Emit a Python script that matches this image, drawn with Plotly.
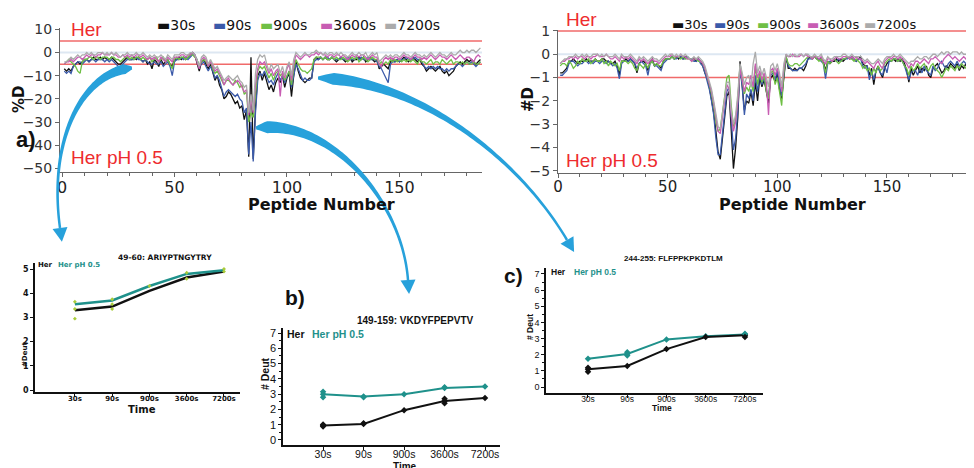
import numpy as np
import plotly.graph_objects as go

# ---------------- data ----------------
SERIES = ["30s", "90s", "900s", "3600s", "7200s"]
COLORS = ["#111111", "#3b5aa9", "#6fbf45", "#c85db3", "#ababab"]

# %D per peptide (peptides 1..186), one list per exchange time
PCT_30 = [
    -7, -8, -7, -8, -6, -5, -4, -5, -4, -3,
    -3, -4, -3, -2, -3, -3, -2, -3, -2, -3,
    -3, -2, -3, -4, -5, -5, -4, -3, -2, -3,
    -3, -2, -3, -2, -3, -4, -3, -5, -4, -7,
    -3, -4, -6, -3, -5, -4, -3, -5, -6, -3,
    -3, -2, -3, -2, -3, -2, -1, 0, -1, -4,
    -8, -4, -3, -5, -7, -5, -9, -12, -10, -14,
    -16, -20, -19, -17, -18, -20, -22, -21, -24, -23,
    -29, -25, -45, -2, -46, -24, -10, -8, -12, -9,
    -13, -16, -14, -17, -13, -11, -13, -10, -15, -11,
    -9, -19, -10, -4, -8, -11, -12, -13, -12, -11,
    -11, -3, -2, -3, -2, -3, -2, -3, -3, -2,
    -3, -4, -3, -2, -3, -4, -3, -2, -4, -3,
    -3, -2, -3, -2, -4, -3, -2, -3, -4, -3,
    -7, -6, -5, -6, -7, -4, -3, -4, -3, -4,
    -3, -2, -3, -4, -3, -2, -3, -4, -3, -5,
    -6, -8, -7, -6, -7, -8, -7, -6, -8, -9,
    -8, -10, -9, -8, -6, -5, -4, -5, -4, -3,
    -4, -3, -4, -5, -4, -3]
PCT_90 = [
    -8, -9, -8, -9, -6, -5, -4, -4, -5, -4,
    -3, -4, -3, -3, -4, -3, -3, -3, -4, -3,
    -4, -3, -4, -5, -6, -6, -5, -4, -3, -3,
    -3, -3, -2, -3, -3, -4, -3, -4, -5, -5,
    -4, -5, -5, -4, -6, -5, -4, -6, -10, -4,
    -3, -3, -2, -3, -2, -3, -2, -1, -1, -3,
    -6, -5, -4, -6, -8, -6, -8, -11, -10, -12,
    -15, -19, -17, -16, -17, -18, -19, -18, -20, -21,
    -26, -24, -44, -30, -47, -26, -12, -9, -10, -8,
    -11, -13, -12, -14, -11, -9, -12, -10, -13, -10,
    -8, -15, -9, -5, -7, -10, -12, -11, -12, -12,
    -11, -4, -3, -3, -2, -3, -2, -2, -3, -2,
    -3, -3, -3, -2, -3, -3, -2, -3, -3, -3,
    -2, -3, -2, -3, -3, -2, -3, -3, -3, -4,
    -6, -7, -9, -11, -13, -5, -4, -4, -3, -4,
    -3, -3, -2, -3, -3, -3, -2, -3, -3, -4,
    -6, -7, -6, -7, -6, -7, -6, -7, -7, -8,
    -7, -8, -7, -7, -6, -5, -5, -6, -5, -4,
    -5, -4, -5, -6, -5, -4]
PCT_900 = [
    -5, -4, -3, -4, -5, -6, -8, -9, -4, -3,
    -3, -2, -2, -3, -2, -2, -3, -2, -2, -2,
    -3, -2, -2, -3, -3, -4, -3, -2, -2, -3,
    -2, -3, -2, -2, -3, -2, -3, -3, -2, -4,
    -3, -2, -4, -3, -2, -4, -3, -5, -7, -3,
    -2, -3, -2, -2, -3, -2, -1, -1, -2, -3,
    -6, -4, -3, -4, -6, -4, -7, -9, -8, -10,
    -12, -14, -12, -12, -13, -14, -12, -13, -15, -14,
    -18, -17, -30, -26, -28, -18, -8, -6, -7, -6,
    -9, -11, -9, -12, -9, -8, -10, -9, -12, -10,
    -8, -14, -7, -3, -5, -7, -8, -8, -9, -8,
    -7, -3, -2, -2, -2, -3, -2, -3, -3, -2,
    -3, -2, -3, -3, -2, -3, -4, -3, -2, -3,
    -2, -4, -3, -2, -3, -4, -3, -2, -3, -3,
    -5, -4, -5, -4, -5, -3, -4, -3, -4, -3,
    -4, -3, -4, -3, -4, -3, -4, -5, -3, -4,
    -4, -5, -4, -3, -5, -4, -4, -5, -3, -4,
    -5, -4, -3, -5, -4, -4, -5, -4, -5, -4,
    -5, -5, -4, -5, -5, -4]
PCT_3600 = [
    -5, -4, -4, -3, -4, -3, -2, -2, -3, -2,
    -1, -2, -1, -1, -2, -1, -1, 0, -1, -1,
    -1, 0, -1, -1, -2, -2, -1, -2, -1, -2,
    -1, -2, -1, -1, -2, -1, -2, -3, -2, -3,
    -2, -3, -4, -2, -3, -4, -2, -3, -4, -2,
    -2, -2, -1, -1, -2, -1, -1, 0, -1, -4,
    -7, -3, -2, -3, -6, -4, -6, -8, -7, -9,
    -11, -14, -12, -11, -13, -14, -13, -12, -13, -15,
    -17, -16, -27, -20, -26, -14, -7, -4, -5, -4,
    -7, -9, -7, -10, -8, -7, -19, -8, -11, -7,
    -5, -12, -5, -1, -2, -3, -2, -1, -1, -2,
    -1, -1, 0, -1, 0, -1, -1, -2, -1, -1,
    -2, -1, -1, -2, -1, -2, -3, -2, -1, -2,
    -1, -2, -1, -1, -2, -3, -2, -1, -2, -2,
    -5, -6, -3, -2, -3, -2, -3, -2, -2, -3,
    -2, -1, -2, -2, -3, -2, -1, -2, -2, -3,
    -2, -3, -2, -1, -2, -3, -2, -1, -2, -2,
    -3, -2, -1, -2, -3, -2, -1, -2, -3, -2,
    -2, -3, -4, -2, -1, -2]
PCT_7200 = [
    -4, -4, -3, -2, -3, -2, -1, -2, -1, -1,
    0, -1, 0, -1, -1, 0, 0, 0, -1, 0,
    -1, 0, -1, 0, -1, -2, -1, -1, 0, -1,
    -1, -1, 0, -1, -1, 0, -1, -2, -1, -2,
    -1, -2, -2, -1, -2, -3, -1, -2, -3, -1,
    -1, -1, 0, 0, -1, -1, 0, 0, -1, -3,
    -6, -2, -1, -2, -5, -3, -5, -7, -6, -8,
    -10, -12, -11, -10, -11, -12, -11, -10, -12, -13,
    -15, -14, -26, -18, -25, -9, -3, -1, -2, -1,
    -5, -8, -5, -7, -6, -5, -9, -6, -10, -6,
    -4, -10, -3, 0, -1, -2, -1, 0, -1, -1,
    0, 0, 1, 0, 0, -1, 0, -1, 0, 0,
    -1, 0, -1, 0, -1, -1, -2, -1, 0, -1,
    -1, 0, -1, -1, 0, -2, -1, 0, -1, 0,
    -4, -3, -2, -1, -2, -1, -2, -1, -1, -2,
    -1, 0, -1, -1, -2, -1, 0, -1, -1, -2,
    -1, -2, -1, 0, -1, -2, -1, 0, -1, -1,
    -2, -1, 0, -1, -1, 0, 1, 0, 0, 1,
    0, 1, 1, 0, 1, 2]

# #D per peptide (peptides 1..190)
ND_30 = [
    -0.8, -0.8, -0.7, -0.6, -0.3, -0.3, -0.2, -0.3, -0.4, -0.3,
    -0.3, -0.3, -0.2, -0.3, -0.3, -0.3, -0.2, -0.3, -0.3, -0.2,
    -0.2, -0.3, -0.3, -0.4, -0.4, -0.3, -0.5, -0.9, -0.3, -0.3,
    -0.2, -0.3, -0.2, -0.3, -0.4, -0.8, -0.4, -0.3, -0.3, -0.4,
    -0.7, -0.3, -0.2, -0.5, -0.4, -0.5, -0.6, -0.3, -0.2, -0.2,
    -0.2, -0.1, -0.2, -0.1, -0.2, -0.1, -0.2, -0.1, -0.1, -0.2,
    -0.2, -0.2, -0.3, -0.2, -0.3, -0.5, -0.8, -1.0, -1.4, -1.9,
    -2.5, -3.3, -4.2, -4.5, -3.6, -2.7, -1.8, -1.6, -3.2, -4.9,
    -4.0, -2.7, -0.3, -1.5, -2.4, -2.0, -2.1, -1.6, -2.2, -1.2,
    -2.0, -1.0, -1.4, -1.1, -1.7, -2.1, -1.0, -0.9, -1.2, -0.8,
    -1.5, -1.9, -1.0, -0.1, -0.6, -0.6, -0.7, -0.6, -0.7, -0.6,
    -0.6, -0.7, -0.5, -0.2, -0.1, -0.2, -0.1, -0.2, -0.2, -0.2,
    -0.3, -0.7, -0.3, -0.4, -0.3, -0.3, -0.2, -0.3, -0.2, -0.3,
    -0.2, -0.1, -0.2, -0.1, -0.2, -0.3, -0.2, -0.1, -0.4, -0.5,
    -0.5, -0.9, -0.6, -1.3, -0.7, -0.5, -0.8, -1.0, -0.6, -0.4,
    -0.3, -0.3, -0.2, -0.3, -0.2, -0.3, -0.2, -0.4, -0.7, -1.2,
    -0.6, -0.9, -0.7, -0.5, -0.8, -0.6, -0.7, -0.5, -0.9, -1.0,
    -0.6, -0.5, -0.4, -0.6, -0.8, -0.7, -0.5, -0.6, -0.4, -0.5,
    -0.6, -0.4, -0.7, -0.5, -0.6, -0.4, -0.7, -0.6, -0.5, -0.6]
ND_90 = [
    -0.9, -0.9, -0.8, -0.7, -0.4, -0.3, -0.3, -0.4, -0.5, -0.4,
    -0.4, -0.3, -0.3, -0.4, -0.3, -0.4, -0.3, -0.3, -0.4, -0.3,
    -0.3, -0.4, -0.3, -0.4, -0.5, -0.4, -0.6, -1.05, -0.4, -0.3,
    -0.3, -0.3, -0.2, -0.3, -0.4, -0.6, -0.4, -0.3, -0.4, -0.5,
    -0.9, -0.4, -0.3, -0.5, -0.5, -0.6, -0.7, -0.4, -0.3, -0.2,
    -0.2, -0.1, -0.2, -0.2, -0.1, -0.1, -0.2, -0.2, -0.1, -0.2,
    -0.2, -0.3, -0.3, -0.2, -0.4, -0.5, -0.8, -1.1, -1.5, -2.0,
    -2.6, -3.6, -4.3, -4.3, -3.4, -2.4, -1.6, -1.4, -3.0, -4.1,
    -3.6, -2.4, -0.6, -1.4, -2.6, -1.7, -1.9, -1.5, -2.0, -0.9,
    -1.6, -0.9, -1.3, -1.0, -1.5, -1.9, -0.9, -0.8, -1.1, -0.7,
    -1.3, -1.8, -0.9, -0.1, -0.5, -0.6, -0.7, -0.7, -0.7, -0.6,
    -0.6, -0.5, -0.4, -0.2, -0.2, -0.2, -0.1, -0.2, -0.2, -0.3,
    -0.4, -1.05, -0.4, -0.3, -0.3, -0.2, -0.3, -0.2, -0.3, -0.2,
    -0.2, -0.2, -0.1, -0.2, -0.2, -0.3, -0.2, -0.2, -0.5, -0.6,
    -0.5, -1.1, -0.7, -1.1, -0.7, -0.6, -0.8, -0.9, -0.5, -0.8,
    -0.3, -0.3, -0.2, -0.2, -0.3, -0.2, -0.3, -0.5, -0.8, -1.1,
    -0.8, -0.7, -0.7, -0.9, -0.6, -0.8, -0.5, -0.7, -0.8, -0.9,
    -0.5, -0.7, -0.6, -0.4, -0.3, -0.5, -0.6, -0.4, -0.3, -0.4,
    -0.5, -0.3, -0.5, -0.4, -0.3, -0.4, -0.5, -0.3, -0.4, -0.3]
ND_900 = [
    -0.5, -0.4, -0.4, -0.5, -0.3, -0.4, -0.6, -0.5, -0.3, -0.4,
    -0.2, -0.3, -0.3, -0.2, -0.4, -0.3, -0.2, -0.3, -0.3, -0.2,
    -0.4, -0.3, -0.5, -0.3, -0.4, -0.5, -0.4, -0.7, -0.3, -0.3,
    -0.3, -0.4, -0.3, -0.4, -0.6, -0.7, -0.4, -0.5, -0.6, -0.4,
    -0.6, -0.4, -0.3, -0.5, -0.4, -0.5, -0.5, -0.3, -0.2, -0.2,
    -0.2, -0.1, -0.2, -0.1, -0.1, -0.2, -0.1, -0.2, -0.2, -0.2,
    -0.3, -0.2, -0.2, -0.3, -0.3, -0.4, -0.6, -0.9, -1.3, -1.7,
    -2.2, -2.9, -3.3, -3.2, -2.6, -1.8, -1.0, -0.9, -2.2, -3.1,
    -2.8, -1.9, -0.5, -1.1, -1.7, -1.4, -1.6, -1.2, -1.6, -0.5,
    -1.3, -0.8, -1.2, -0.9, -1.6, -1.9, -0.8, -0.7, -1.3, -1.0,
    -1.6, -2.2, -0.8, -0.1, -0.4, -0.5, -0.5, -0.4, -0.4, -0.5,
    -0.4, -0.3, -0.2, -0.1, -0.1, -0.2, -0.1, -0.2, -0.3, -0.2,
    -0.4, -0.8, -0.3, -0.4, -0.3, -0.2, -0.3, -0.4, -0.3, -0.2,
    -0.2, -0.1, -0.2, -0.2, -0.3, -0.2, -0.3, -0.4, -0.6, -0.5,
    -0.7, -0.6, -0.9, -0.6, -0.8, -0.5, -0.7, -0.6, -0.4, -0.3,
    -0.2, -0.3, -0.2, -0.2, -0.3, -0.2, -0.3, -0.5, -0.6, -0.9,
    -0.5, -0.7, -0.6, -0.4, -0.6, -0.5, -0.4, -0.6, -0.7, -0.5,
    -0.4, -0.6, -0.7, -0.8, -1.0, -0.8, -0.6, -0.7, -0.5, -0.6,
    -0.7, -0.5, -0.6, -0.4, -0.5, -0.6, -0.4, -0.5, -0.4, -0.5]
ND_3600 = [
    -0.4, -0.3, -0.3, -0.2, -0.2, -0.1, -0.2, -0.1, -0.2, -0.1,
    -0.1, -0.2, -0.1, -0.1, -0.2, -0.1, -0.1, 0.0, -0.1, -0.1,
    -0.1, 0.0, -0.1, -0.2, -0.2, -0.1, -0.2, -0.3, -0.1, -0.2,
    -0.1, -0.2, -0.1, -0.2, -0.3, -0.4, -0.2, -0.3, -0.2, -0.3,
    -0.4, -0.3, -0.2, -0.3, -0.3, -0.4, -0.3, -0.2, -0.1, -0.1,
    -0.1, 0.0, -0.1, -0.1, -0.1, 0.0, -0.1, -0.1, -0.2, -0.2,
    -0.3, -0.2, -0.2, -0.2, -0.3, -0.4, -0.6, -0.9, -1.2, -1.6,
    -2.1, -2.7, -3.3, -3.4, -2.8, -2.0, -1.3, -1.5, -2.6, -3.3,
    -2.9, -2.0, -0.6, -1.1, -1.6, -1.2, -1.3, -0.9, -1.4, -0.4,
    -1.0, -0.7, -1.1, -0.8, -1.2, -2.6, -0.7, -0.6, -0.9, -0.6,
    -1.0, -1.6, -0.6, 0.0, -0.1, -0.1, 0.0, -0.1, -0.1, -0.1,
    0.0, -0.1, 0.0, -0.1, -0.1, -0.2, -0.1, -0.1, -0.2, -0.1,
    -0.3, -0.4, -0.2, -0.2, -0.3, -0.2, -0.1, -0.2, -0.2, -0.1,
    -0.1, -0.1, -0.2, -0.1, -0.2, -0.1, -0.2, -0.2, -0.3, -0.4,
    -0.3, -0.4, -0.5, -0.6, -0.4, -0.3, -0.5, -0.6, -0.3, -0.2,
    -0.1, -0.2, -0.1, -0.1, -0.2, -0.1, -0.2, -0.3, -0.4, -0.6,
    -0.4, -0.5, -0.3, -0.3, -0.4, -0.3, -0.2, -0.3, -0.4, -0.2,
    -0.2, -0.1, -0.2, -0.3, -0.4, -0.2, -0.1, 0.0, -0.1, -0.2,
    -0.1, -0.2, -0.3, -0.2, -0.1, -0.2, -0.3, -0.2, -0.1, -0.2]
ND_7200 = [
    -0.4, -0.3, -0.2, -0.2, -0.1, -0.1, -0.1, 0.0, -0.1, -0.1,
    0.0, -0.1, 0.0, -0.1, -0.1, 0.0, 0.0, 0.0, -0.1, 0.0,
    -0.1, 0.0, -0.1, -0.1, -0.1, 0.0, -0.1, -0.2, 0.0, -0.1,
    -0.1, -0.1, 0.0, -0.1, -0.2, -0.3, -0.1, -0.2, -0.1, -0.2,
    -0.3, -0.2, -0.1, -0.2, -0.2, -0.3, -0.2, -0.1, 0.0, -0.1,
    0.0, 0.0, -0.1, 0.0, -0.1, 0.0, -0.1, 0.0, -0.1, -0.2,
    -0.2, -0.1, -0.2, -0.1, -0.2, -0.3, -0.5, -0.8, -1.1, -1.5,
    -2.0, -2.6, -3.1, -3.2, -2.6, -1.8, -1.2, -1.2, -2.4, -3.0,
    -2.6, -1.7, -0.4, -0.8, -1.3, -1.0, -0.9, -1.4, -0.4, 0.1,
    -0.8, -0.5, -0.9, -0.6, -1.0, -1.4, -0.5, -0.4, -0.7, -0.4,
    -0.8, -1.4, -0.4, 0.0, -0.1, 0.0, -0.1, 0.0, -0.1, 0.0,
    0.0, -0.1, 0.0, 0.0, -0.1, -0.1, 0.0, -0.1, -0.1, 0.0,
    -0.2, -0.3, -0.1, -0.2, -0.2, -0.1, -0.1, -0.1, -0.1, 0.0,
    0.0, -0.1, -0.1, 0.0, -0.1, -0.1, -0.1, -0.1, -0.2, -0.3,
    -0.2, -0.3, -0.4, -0.4, -0.3, -0.2, -0.3, -0.4, -0.2, -0.1,
    -0.1, -0.1, 0.0, -0.1, -0.1, 0.0, -0.1, -0.2, -0.3, -0.4,
    -0.3, -0.3, -0.2, -0.1, -0.2, -0.2, -0.1, -0.1, -0.2, -0.1,
    0.0, 0.0, -0.1, 0.0, 0.1, 0.0, 0.1, 0.1, 0.0, 0.1,
    0.1, 0.1, 0.0, 0.1, 0.0, 0.0, -0.1, 0.0, 0.1, -0.1]

PCT_ALL = [PCT_30, PCT_90, PCT_900, PCT_3600, PCT_7200]
ND_ALL = [ND_30, ND_90, ND_900, ND_3600, ND_7200]
PEP_PCT = list(range(1, len(PCT_30) + 1))
PEP_ND = list(range(1, len(ND_30) + 1))

# uptake plots for single peptides
TIMES = ["30s", "90s", "900s", "3600s", "7200s"]
A_TITLE = "49-60: ARIYPTNGYTRY"
A_HER = [3.3, 3.45, 4.1, 4.65, 4.9]
A_PH = [3.55, 3.7, 4.3, 4.8, 4.95]
A_REP_T = ["30s", "30s", "30s", "90s", "90s", "90s", "900s", "3600s", "3600s", "7200s", "7200s"]
A_REP_Y = [2.95, 3.35, 3.65, 3.35, 3.55, 3.75, 4.3, 4.6, 4.85, 4.9, 5.0]

B_TITLE = "149-159: VKDYFPEPVTV"
B_HER = [0.95, 1.05, 1.95, 2.55, 2.75]
B_PH = [3.0, 2.85, 3.0, 3.4, 3.5]
B_HER_REP_T = ["30s", "30s", "90s", "3600s", "3600s"]
B_HER_REP_Y = [0.88, 1.02, 1.1, 2.4, 2.7]
B_PH_REP_T = ["30s", "30s", "90s", "3600s"]
B_PH_REP_Y = [2.8, 3.15, 2.8, 3.45]

C_TITLE = "244-255: FLFPPKPKDTLM"
C_HER = [1.1, 1.3, 2.35, 3.1, 3.2]
C_PH = [1.75, 2.05, 2.95, 3.15, 3.25]
C_HER_REP_T = ["30s", "30s", "7200s"]
C_HER_REP_Y = [0.95, 1.2, 3.1]
C_PH_REP_T = ["90s", "90s", "7200s"]
C_PH_REP_Y = [1.95, 2.15, 3.3]

HER = "Her"
HER_PH = "Her pH 0.5"
RED = "#ee2b2e"
TEAL = "#1f918b"
ARROW = "#27a1db"

# ---------------- helpers (page pixel -> paper) ----------------
# the page body keeps its default 8px margin, so the figure sits at (8, 8)
OFF = 8
W, H = 974 - OFF, 468 - OFF


def px(x):
    return (x - OFF) / W


def py(y):
    return 1 - (y - OFF) / H


fig = go.Figure()

# main panels
for name, col, ys in zip(SERIES, COLORS, PCT_ALL):
    fig.add_trace(go.Scatter(x=PEP_PCT, y=ys, mode="lines", name=name,
                             line=dict(color=col, width=1.3),
                             xaxis="x", yaxis="y", showlegend=False))
for name, col, ys in zip(SERIES, COLORS, ND_ALL):
    fig.add_trace(go.Scatter(x=PEP_ND, y=ys, mode="lines", name=name,
                             line=dict(color=col, width=1.3),
                             xaxis="x2", yaxis="y2", showlegend=False))

# inset a
fig.add_trace(go.Scatter(x=TIMES, y=A_HER, mode="lines", line=dict(color="#111111", width=2.5),
                         xaxis="x3", yaxis="y3", showlegend=False))
fig.add_trace(go.Scatter(x=TIMES, y=A_PH, mode="lines", line=dict(color=TEAL, width=2.5),
                         xaxis="x3", yaxis="y3", showlegend=False))
fig.add_trace(go.Scatter(x=A_REP_T, y=A_REP_Y, mode="markers",
                         marker=dict(color="#a9cc3a", size=3, symbol="diamond"),
                         xaxis="x3", yaxis="y3", showlegend=False))

# inset b and c
for ax, her, ph, hrt, hry, prt, pry in [
        ("4", B_HER, B_PH, B_HER_REP_T, B_HER_REP_Y, B_PH_REP_T, B_PH_REP_Y),
        ("5", C_HER, C_PH, C_HER_REP_T, C_HER_REP_Y, C_PH_REP_T, C_PH_REP_Y)]:
    fig.add_trace(go.Scatter(x=TIMES, y=ph, mode="lines+markers",
                             line=dict(color=TEAL, width=2),
                             marker=dict(color=TEAL, size=5, symbol="diamond"),
                             xaxis="x" + ax, yaxis="y" + ax, showlegend=False))
    fig.add_trace(go.Scatter(x=TIMES, y=her, mode="lines+markers",
                             line=dict(color="#111111", width=2),
                             marker=dict(color="#111111", size=5, symbol="diamond"),
                             xaxis="x" + ax, yaxis="y" + ax, showlegend=False))
    fig.add_trace(go.Scatter(x=prt, y=pry, mode="markers",
                             marker=dict(color=TEAL, size=5, symbol="diamond"),
                             xaxis="x" + ax, yaxis="y" + ax, showlegend=False))
    fig.add_trace(go.Scatter(x=hrt, y=hry, mode="markers",
                             marker=dict(color="#111111", size=5, symbol="diamond"),
                             xaxis="x" + ax, yaxis="y" + ax, showlegend=False))

# ---------------- axes ----------------
main_font = dict(family="DejaVu Sans", size=14, color="#333333")
ax_common = dict(showline=True, linecolor="#666666", linewidth=1, showgrid=False,
                 zeroline=False, ticks="outside", ticklen=4, tickcolor="#666666",
                 automargin=False)

fig.update_layout(
    xaxis=dict(domain=[px(60), px(482)], range=[-0.9, 186.7], anchor="y",
               tickvals=[0, 50, 100, 150], tickfont=dict(family="DejaVu Sans", size=16, color="#222"),
               ticklabelstandoff=-4,
               minor=dict(dtick=10, ticks="outside", ticklen=3, tickcolor="#666666"), **ax_common),
    yaxis=dict(domain=[py(172.3), py(28)], range=[-51.7, 10.6], anchor="x",
               tickvals=[-50, -40, -30, -20, -10, 0, 10], tickfont=main_font, **ax_common),
    xaxis2=dict(domain=[px(558), 1.0], range=[0, 189.7], anchor="y2",
                tickvals=[0, 50, 100, 150], tickfont=dict(family="DejaVu Sans", size=15, color="#222"),
                ticklabelstandoff=-4,
                minor=dict(dtick=10, ticks="outside", ticklen=3, tickcolor="#666666"), **ax_common),
    yaxis2=dict(domain=[py(173), py(30)], range=[-5.09, 1.04], anchor="x2",
                tickvals=[-5, -4, -3, -2, -1, 0, 1], tickfont=main_font, **ax_common),
)

ins_common = dict(showline=True, linecolor="#111111", linewidth=1.5, showgrid=False,
                  zeroline=False, ticks="outside", ticklen=3, tickcolor="#111111",
                  automargin=False)
narrow = "Liberation Sans"
fig.update_layout(
    xaxis3=dict(domain=[px(35), px(240)], range=[-1.07, 4.43], anchor="y3", type="category",
                ticklabelstandoff=-4,
                tickfont=dict(family="DejaVu Sans", size=7, color="#111", weight="bold"), **ins_common),
    yaxis3=dict(domain=[py(392), py(263)], range=[-0.08, 5.25], anchor="x3", dtick=1,
                tickfont=dict(family="DejaVu Sans", size=8, color="#111", weight="bold"), **ins_common),
    xaxis4=dict(domain=[px(283), px(500)], range=[-0.99, 4.37], anchor="y4", type="category",
                ticklabelstandoff=-4,
                tickfont=dict(family=narrow, size=10.5, color="#111"), **ins_common),
    yaxis4=dict(domain=[py(445), py(328)], range=[-0.33, 7.33], anchor="x4", dtick=1,
                tickfont=dict(family=narrow, size=11, color="#111"),
                minor=dict(dtick=0.5, ticks="outside", ticklen=2, tickcolor="#111111"), **ins_common),
    xaxis5=dict(domain=[px(546), px(763)], range=[-1.07, 4.46], anchor="y5", type="category",
                ticklabelstandoff=-6,
                tickfont=dict(family=narrow, size=8.5, color="#111"), **ins_common),
    yaxis5=dict(domain=[py(393), py(268)], range=[-0.37, 7.37], anchor="x5", dtick=1,
                tickfont=dict(family=narrow, size=9, color="#111"),
                minor=dict(dtick=0.5, ticks="outside", ticklen=2, tickcolor="#111111"), **ins_common),
)

# reference lines (Her thresholds and zero)
for xr, yr, lim in [("x", "y", 5), ("x2", "y2", 1)]:
    fig.add_shape(type="line", xref=xr + " domain", yref=yr, x0=0, x1=1, y0=0, y1=0,
                  line=dict(color="#dde7f2", width=2), layer="below")
    for v in (lim, -lim):
        fig.add_shape(type="line", xref=xr + " domain", yref=yr, x0=0, x1=1, y0=v, y1=v,
                      line=dict(color="#f06a6a", width=1.5), layer="below")

# ---------------- text ----------------
ann = []


def text(x, y, s, size, color="#111111", family="DejaVu Sans", bold=False,
         angle=0, xanchor="center"):
    ann.append(dict(x=px(x), y=py(y), xref="paper", yref="paper", text=s, showarrow=False,
                    textangle=angle, xanchor=xanchor, yanchor="middle",
                    font=dict(family=family, size=size, color=color,
                              weight="bold" if bold else "normal")))


arial = "Liberation Sans, Arial"
# left main
text(19, 100, "%D", 15, bold=True, angle=-90)
text(26, 139, "a)", 22, family=arial, bold=True)
text(321, 204, "Peptide Number", 16, bold=True)
text(69, 30, HER, 19, color=RED, family=arial, xanchor="left")
text(69, 157, HER_PH, 19, color=RED, family=arial, xanchor="left")
# right main
text(528, 100, "#D", 15, bold=True, angle=-90)
text(792, 204, "Peptide Number", 16, bold=True)
text(564, 20, HER, 19, color=RED, family=arial, xanchor="left")
text(564, 161, HER_PH, 19, color=RED, family=arial, xanchor="left")

# legends for main panels
for xs, yy, size in [([155, 211, 258, 318, 382], 25, 14), ([670, 712, 755, 805, 862], 24, 13)]:
    for x0, name, col in zip(xs, SERIES, COLORS):
        ann.append(dict(x=px(x0), y=py(yy), xref="paper", yref="paper", showarrow=False,
                        xanchor="left", yanchor="middle",
                        text=f"<span style='color:{col}'>▬</span>{name}",
                        font=dict(family="DejaVu Sans", size=size, color="#111111")))

# inset a
text(165, 257, A_TITLE, 7.5, bold=True)
text(36, 265, HER, 7, bold=True, xanchor="left")
text(56, 265, HER_PH, 7, color=TEAL, bold=True, xanchor="left")
text(142, 409, "Time", 10, bold=True)
text(25, 355, "#Deut", 7, bold=True, angle=-90)
# inset b
text(295, 297, "b)", 21, family=arial, bold=True)
text(415, 320, B_TITLE, 10, family=narrow, bold=True)
text(285, 334, HER, 10.5, family=narrow, bold=True, xanchor="left")
text(310, 334, HER_PH, 10.5, family=narrow, color=TEAL, bold=True, xanchor="left")
text(265, 374, "# Deut", 10.5, family=narrow, bold=True, angle=-90)
text(405, 466, "Time", 10, family=narrow, bold=True)
# inset c
text(513, 275, "c)", 21, family=arial, bold=True)
text(673, 258, C_TITLE, 8, family=narrow, bold=True)
text(549, 272, HER, 8.5, family=narrow, bold=True, xanchor="left")
text(572, 272, HER_PH, 8.5, family=narrow, color=TEAL, bold=True, xanchor="left")
text(530, 327, "# Deut", 8.5, family=narrow, bold=True, angle=-90)
text(662, 408, "Time", 8.5, family=narrow, bold=True)


# ---------------- curved arrows ----------------
def arrow_shapes(p0, c1, c2, p1, w0=12.0, w1=2.5, head_len=14, head_w=15):
    p0, c1, c2, p1 = map(np.array, (p0, c1, c2, p1))
    t = np.linspace(0, 1, 80)[:, None]
    pts = (1 - t) ** 3 * p0 + 3 * (1 - t) ** 2 * t * c1 + 3 * (1 - t) * t ** 2 * c2 + t ** 3 * p1
    d = 3 * (1 - t) ** 2 * (c1 - p0) + 6 * (1 - t) * t * (c2 - c1) + 3 * t ** 2 * (p1 - c2)
    d = d / np.linalg.norm(d, axis=1, keepdims=True)
    n = np.column_stack([-d[:, 1], d[:, 0]])
    tt = t[:, 0]
    s = np.clip((tt - 0.05) / 0.95, 0, 1)
    w = np.where(tt < 0.05, 3 + (w0 - 3) * tt / 0.05, w1 + (w0 - w1) * (1 - s) ** 2.2)
    left = pts + n * w[:, None] / 2
    right = pts - n * w[:, None] / 2
    poly = np.vstack([left, right[::-1]])
    path = "M " + " L ".join(f"{px(a):.5f},{py(b):.5f}" for a, b in poly) + " Z"
    u = d[-1]
    nn = n[-1]
    tip = p1 + u * head_len
    b1 = p1 + nn * head_w / 2
    b2 = p1 - nn * head_w / 2
    head = (f"M {px(b1[0]):.5f},{py(b1[1]):.5f} L {px(tip[0]):.5f},{py(tip[1]):.5f} "
            f"L {px(b2[0]):.5f},{py(b2[1]):.5f} Z")
    return [dict(type="path", xref="paper", yref="paper", path=p, fillcolor=ARROW,
                 line=dict(width=0), layer="above") for p in (path, head)]


for args in [((132, 68), (82, 72), (48, 140), (60, 228), 10),
             ((256, 128), (330, 118), (402, 200), (408, 280), 12),
             ((318, 78), (420, 80), (520, 160), (567, 240), 12)]:
    for shp in arrow_shapes(*args[:4], w0=args[4]):
        fig.add_shape(**shp)

fig.update_layout(
    width=W, height=H, margin=dict(l=0, r=0, t=0, b=0),
    paper_bgcolor="white", plot_bgcolor="white",
    annotations=ann, showlegend=False,
)

fig.write_html("out.html")
